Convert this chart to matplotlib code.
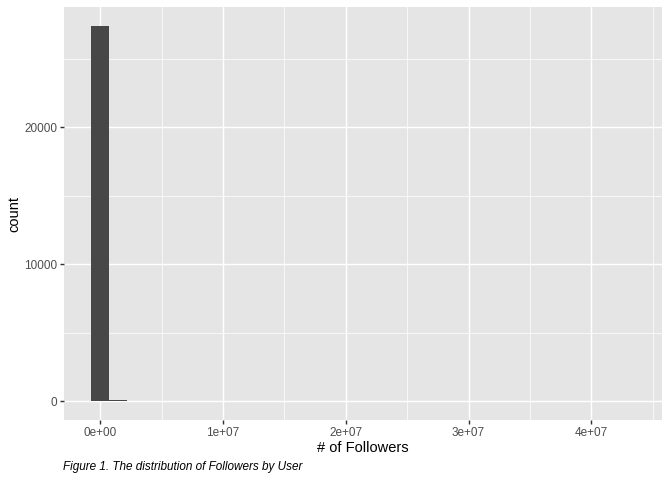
import numpy as np
import matplotlib
matplotlib.use("Agg")
from matplotlib import pyplot as plt
from matplotlib.ticker import FixedLocator, FuncFormatter

# histogram of followers: 30 bins, centred on multiples of the bin width
bin_width = 1.476e6
counts = [27430, 75, 35, 30, 2, 8, 1, 2, 8, 1,
          0, 1, 0, 0, 0, 0, 6, 0, 0, 0,
          0, 0, 0, 0, 0, 0, 0, 0, 0, 3]
x_ticks = [0, 1e7, 2e7, 3e7, 4e7]
x_tick_labels = ["0e+00", "1e+07", "2e+07", "3e+07", "4e+07"]
y_ticks = [0, 10000, 20000]

plt.rcParams['font.family'] = ['Liberation Sans', 'DejaVu Sans']

fig = plt.figure(figsize=(7, 5), dpi=96)
ax = fig.add_axes([64 / 672, 1 - 420 / 480, (662 - 64) / 672, (420 - 7) / 480])
ax.set_facecolor('#E5E5E5')

centers = np.arange(len(counts)) * bin_width
ax.bar(centers, counts, width=bin_width, color='#474747', linewidth=0, zorder=3)

lo = centers[0] - bin_width / 2
hi = centers[-1] + bin_width / 2
pad = (hi - lo) * 0.05
ax.set_xlim(lo - pad, hi + pad)
ymax = max(counts)
ax.set_ylim(-0.05 * ymax, ymax * 1.05)

ax.xaxis.set_major_locator(FixedLocator(x_ticks))
ax.xaxis.set_major_formatter(FuncFormatter(lambda v, p: x_tick_labels[x_ticks.index(v)] if v in x_ticks else ""))
ax.xaxis.set_minor_locator(FixedLocator(np.arange(-5e6, 5e7, 1e7)))
ax.yaxis.set_major_locator(FixedLocator(y_ticks))
ax.yaxis.set_minor_locator(FixedLocator([5000, 15000, 25000]))

ax.grid(which='major', color='white', linewidth=1.07, zorder=1)
ax.grid(which='minor', color='white', linewidth=0.53, zorder=1)
ax.set_axisbelow(True)
for s in ax.spines.values():
    s.set_visible(False)

ax.tick_params(which='major', length=2.75, width=1.07, color='#333333',
               labelcolor='#4D4D4D', labelsize=8.8, pad=2.2)
ax.tick_params(which='minor', length=0)

ax.set_xlabel('# of Followers', fontsize=11, color='black', labelpad=1.8)
ax.set_ylabel('count', fontsize=11, color='black', labelpad=2.5)

fig.text(63 / 672, 1 - 467 / 480, 'Figure 1. The distribution of Followers by User',
         fontsize=8.8, style='italic', ha='left', va='center', color='black')

fig.savefig('out.png', dpi=96)
